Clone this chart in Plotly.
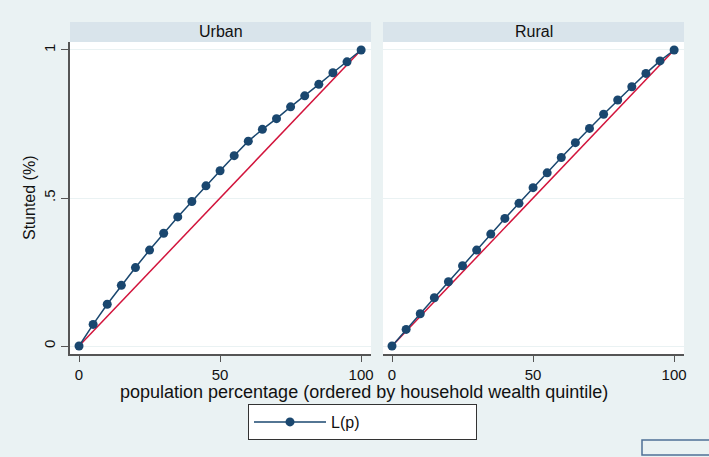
import plotly.graph_objects as go

# ---- data ----
pop_pct = [0, 5, 10, 15, 20, 25, 30, 35, 40, 45, 50, 55, 60, 65, 70, 75, 80, 85, 90, 95, 100]
urban_lp = [0.0, 0.073, 0.141, 0.205, 0.265, 0.324, 0.381, 0.436, 0.488, 0.541, 0.592,
            0.643, 0.692, 0.732, 0.768, 0.808, 0.845, 0.884, 0.923, 0.960, 1.0]
rural_lp = [0.0, 0.056, 0.109, 0.163, 0.217, 0.271, 0.324, 0.378, 0.431, 0.482, 0.535,
            0.585, 0.637, 0.687, 0.735, 0.783, 0.831, 0.876, 0.921, 0.963, 1.0]
equality_x = [0, 100]
equality_y = [0, 1]
panels = ["Urban", "Rural"]
y_ticks = [0, 0.5, 1]
y_tick_labels = ["0", ".5", "1"]
x_ticks = [0, 50, 100]

NAVY = "#1a476f"
RED = "#d2143c"
BG = "#eaf2f3"
STRIP = "#d9e4eb"
FONT = "Liberation Sans, Arial, sans-serif"

fig = go.Figure()

series = [urban_lp, rural_lp]
for i, vals in enumerate(series):
    xa = "x" if i == 0 else "x2"
    ya = "y" if i == 0 else "y2"
    fig.add_trace(go.Scatter(
        x=equality_x, y=equality_y, mode="lines",
        line=dict(color=RED, width=1.5), xaxis=xa, yaxis=ya,
        showlegend=False, hoverinfo="skip"))
    fig.add_trace(go.Scatter(
        x=pop_pct, y=vals, mode="lines+markers", name="L(p)",
        line=dict(color=NAVY, width=1.5),
        marker=dict(color=NAVY, size=9),
        xaxis=xa, yaxis=ya, showlegend=(i == 0)))

d1 = 301 / 614
d2 = 313 / 614
ydom_top = 312 / 332
xr = [-3.2, 103.5]
yr = [-0.027, 1.027]

axis_common = dict(range=xr, tickvals=x_ticks, ticks="outside", ticklen=6,
                   tickcolor="#555555", showline=True, linecolor="#555555",
                   linewidth=1.5, showgrid=False, zeroline=False,
                   tickfont=dict(size=15, color="#111111", family=FONT))

fig.update_layout(
    width=709, height=457,
    margin=dict(l=70, r=25, t=22, b=103),
    paper_bgcolor=BG, plot_bgcolor="white",
    font=dict(family=FONT, color="#111111"),
    xaxis=dict(domain=[0, d1], anchor="y", **axis_common),
    xaxis2=dict(domain=[d2, 1], anchor="y2", **axis_common),
    yaxis=dict(domain=[0, ydom_top], range=yr, tickvals=y_ticks,
               ticktext=y_tick_labels, tickangle=-90, ticks="outside",
               ticklen=7, tickcolor="#555555", showline=True,
               linecolor="#555555", linewidth=1.5, showgrid=True,
               gridcolor=BG, gridwidth=1, zeroline=False,
               tickfont=dict(size=15, color="#111111", family=FONT)),
    yaxis2=dict(domain=[0, ydom_top], range=yr, anchor="x2", tickvals=y_ticks,
                showticklabels=False, ticks="", showline=False, showgrid=True,
                gridcolor=BG, gridwidth=1, zeroline=False),
    legend=dict(orientation="h", x=178 / 614, y=-50 / 332, xanchor="left",
                yanchor="top", bgcolor="white", bordercolor="#333333",
                borderwidth=1, font=dict(size=16, family=FONT, color="#111111"),
                entrywidth=140, itemwidth=72),
    showlegend=True,
)

# facet strips
for i, name in enumerate(panels):
    x0, x1 = (0, d1) if i == 0 else (d2, 1)
    fig.add_shape(type="rect", xref="paper", yref="paper", x0=x0, x1=x1,
                  y0=ydom_top, y1=1.0, fillcolor=STRIP, line=dict(width=0),
                  layer="below")
    fig.add_annotation(text=name, xref="paper", yref="paper",
                       x=(x0 + x1) / 2, y=(ydom_top + 1) / 2, showarrow=False,
                       xanchor="center", yanchor="middle",
                       font=dict(size=16, family=FONT, color="#111111"))

# axis titles
fig.add_annotation(text="population percentage (ordered by household wealth quintile)",
                   xref="paper", yref="paper", x=(364 - 70) / 614, y=-38 / 332,
                   xanchor="center", yanchor="middle", showarrow=False,
                   font=dict(size=18, family=FONT, color="#111111"))
fig.add_annotation(text="Stunted (%)", xref="paper", yref="paper",
                   x=-40 / 614, y=156 / 332, textangle=-90,
                   xanchor="center", yanchor="middle", showarrow=False,
                   font=dict(size=16, family=FONT, color="#111111"))

# small empty box bottom right
fig.add_shape(type="rect", xref="paper", yref="paper",
              x0=(642 - 70) / 614, x1=(712 - 70) / 614,
              y0=(354 - 455) / 332, y1=(354 - 440) / 332,
              fillcolor="rgba(0,0,0,0)", line=dict(color="#4f7096", width=1.5))

fig.write_html("out.html", config={"displayModeBar": False},
               post_script="document.body.style.margin='0';"
                           "document.body.style.background='#eaf2f3';"
                           "document.body.style.overflow='hidden';")
